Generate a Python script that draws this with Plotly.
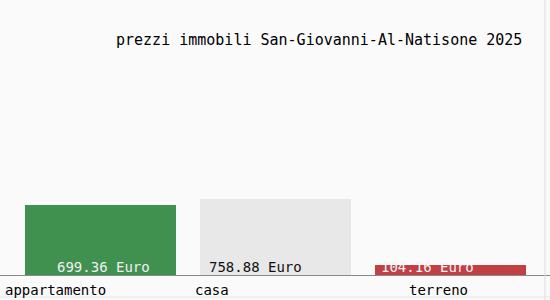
import plotly.graph_objects as go

categories = ["appartamento", "casa", "terreno"]
values = [699.36, 758.88, 104.16]
value_labels = ["699.36 Euro", "758.88 Euro", "104.16 Euro"]
title_text = "prezzi immobili San-Giovanni-Al-Natisone 2025"

bar_colors = ["#409050", "#e8e8e8", "#c04044"]
label_colors = ["#f0f0f0", "#111111", "#f4f4f4"]
value_shift = [3, -20, -23]
cat_shift = [-45, -64, -12]

FONT = "DejaVu Sans Mono"

fig = go.Figure()
fig.add_trace(go.Bar(
    x=list(range(len(categories))), y=values,
    marker=dict(color=bar_colors, line=dict(width=0)),
    width=0.863, hoverinfo="skip",
))

for i, (lab, col) in enumerate(zip(value_labels, label_colors)):
    fig.add_annotation(x=i, y=0, yref="y", text=lab, showarrow=False,
                       xanchor="center", yanchor="bottom", xshift=value_shift[i], yshift=-2,
                       font=dict(family=FONT, size=14, color=col))
for i, c in enumerate(categories):
    fig.add_annotation(x=i, y=0, yref="y", text=c, showarrow=False,
                       xanchor="center", yanchor="top", xshift=cat_shift[i], yshift=-5,
                       font=dict(family=FONT, size=14, color="#000000"))

fig.add_annotation(x=524 / 550, y=1 - 40 / 275, xref="paper", yref="paper", text=title_text,
                   showarrow=False, xanchor="right", yanchor="middle",
                   font=dict(family=FONT, size=15, color="#000000"))

fig.update_layout(
    width=550, height=300, margin=dict(l=0, r=0, t=0, b=25),
    paper_bgcolor="#fafafa", plot_bgcolor="#fafafa",
    showlegend=False, bargap=0,
    xaxis=dict(range=[-100.5 / 175, (550 - 100.5) / 175], showticklabels=False,
               showgrid=False, zeroline=False, showline=True, linecolor="#888888",
               linewidth=1, fixedrange=True),
    yaxis=dict(range=[0, 2750], showticklabels=False, showgrid=False, zeroline=False,
               fixedrange=True),
)
fig.add_shape(type="line", xref="paper", yref="paper", x0=545 / 550, x1=545 / 550,
              y0=-25 / 275, y1=1, line=dict(color="#dddddd", width=1))
fig.add_shape(type="line", xref="paper", yref="paper", x0=0, x1=1,
              y0=-22 / 275, y1=-22 / 275, line=dict(color="#e4e4e4", width=1))
fig.write_html("out.html", config={"displayModeBar": False})
